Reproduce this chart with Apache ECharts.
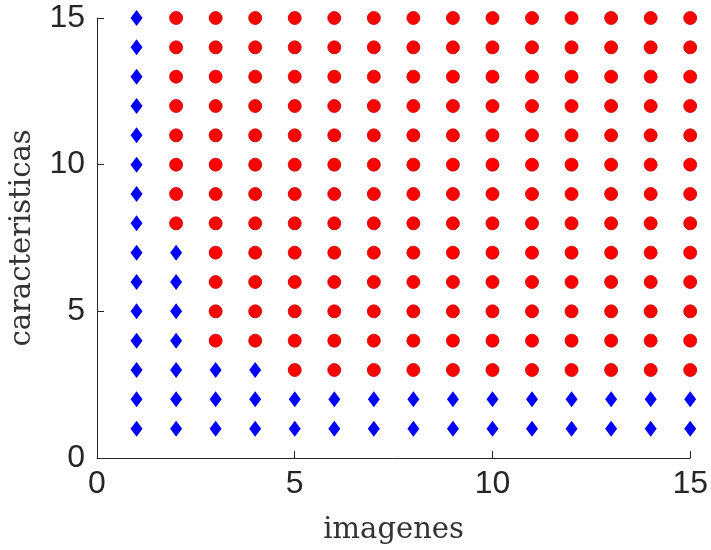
<!DOCTYPE html>
<html>
<head>
<meta charset="utf-8">
<script src="https://cdn.jsdelivr.net/npm/echarts@6/dist/echarts.min.js"></script>
<style>html,body{margin:0;padding:0;background:#fff}#c{width:711px;height:550px}</style>
</head>
<body>
<div id="c"></div>
<script>
// images on the x axis
var imagenes = [1,2,3,4,5,6,7,8,9,10,11,12,13,14,15];
// features on the y axis
var caracteristicas = [1,2,3,4,5,6,7,8,9,10,11,12,13,14,15];
// highest feature count marked blue (diamond) for each image; above it the points are red
var limiteAzul = [15,7,3,3,2,2,2,2,2,2,2,2,2,2,2];
var xTicks = [0,5,10,15];
var yTicks = [0,5,10,15];

var azul = [], rojo = [];
imagenes.forEach(function(im, i){
  caracteristicas.forEach(function(c){
    if (c <= limiteAzul[i]) azul.push([im, c]); else rojo.push([im, c]);
  });
});

var axisColor = '#262626';
var chart = echarts.init(document.getElementById('c'));
chart.setOption({
  animation: false,
  backgroundColor: '#fff',
  grid: {left: 97, right: 17, top: 18, bottom: 92},
  xAxis: {
    type: 'value', min: xTicks[0], max: xTicks[xTicks.length-1], interval: 5,
    name: 'imagenes', nameLocation: 'middle', nameGap: 58,
    nameTextStyle: {fontFamily: 'DejaVu Serif', fontSize: 29, color: '#333'},
    axisLine: {show: true, lineStyle: {color: axisColor, width: 1}},
    axisTick: {show: true, inside: true, length: 7, lineStyle: {color: axisColor}},
    axisLabel: {fontFamily: 'Liberation Sans', fontSize: 32, color: '#262626', margin: 10},
    splitLine: {show: false}
  },
  yAxis: {
    type: 'value', min: yTicks[0], max: yTicks[yTicks.length-1], interval: 5,
    name: 'caracteristicas', nameLocation: 'middle', nameGap: 60,
    nameTextStyle: {fontFamily: 'DejaVu Serif', fontSize: 29, color: '#333'},
    axisLine: {show: true, lineStyle: {color: axisColor, width: 1}},
    axisTick: {show: true, inside: true, length: 7, lineStyle: {color: axisColor}},
    axisLabel: {fontFamily: 'Liberation Sans', fontSize: 32, color: '#262626', margin: 12},
    splitLine: {show: false}
  },
  series: [
    {type: 'scatter', data: azul, symbol: 'diamond', symbolSize: [12, 16],
     itemStyle: {color: '#0000ff', opacity: 1}},
    {type: 'scatter', data: rojo, symbol: 'circle', symbolSize: 13,
     itemStyle: {color: '#ff0000', borderColor: '#c80000', borderWidth: 0.8, opacity: 1}}
  ]
});
</script>
</body>
</html>
